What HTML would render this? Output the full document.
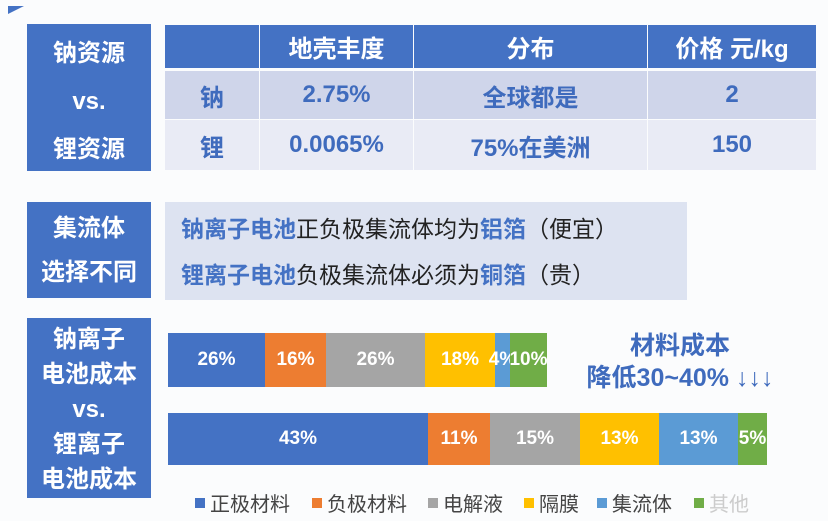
<!DOCTYPE html>
<html><head><meta charset="utf-8"><style>
*{margin:0;padding:0;box-sizing:border-box}
body{width:828px;height:521px;background:#fbfcfd;position:relative;overflow:hidden;font-family:"Liberation Sans","Noto Sans CJK SC",sans-serif;font-weight:bold}
.a{position:absolute}
.blk{background:#4472c4;color:#fff;font-size:24px;text-align:center}
.c{position:absolute;display:flex;align-items:center;justify-content:center;font-size:24px}
.h{background:#4472c4;color:#fff}
.r1{background:#cfd5ea;color:#3f6bbd}
.r2{background:#e9ebf5;color:#3f6bbd}
.seg{position:absolute;display:flex;align-items:center;justify-content:center;color:#fff;font-size:19px}
.lg{position:absolute;top:488px;font-size:20px;font-weight:normal;color:#444;display:flex;align-items:center}
.lg i{display:inline-block;width:10px;height:10px;margin-right:5px}
</style></head><body>
<div class="a" style="left:8px;top:6px;width:0;height:0;border-top:8px solid #4472c4;border-right:16px solid transparent"></div>
<div class="a blk" style="left:27px;top:24px;width:124px;height:147px;line-height:48px;padding-top:6px">钠资源<br>vs.<br>锂资源</div>
<div class="c h" style="left:165px;top:25px;width:94px;height:43px"></div>
<div class="c h" style="left:260px;top:25px;width:153px;height:43px">地壳丰度</div>
<div class="c h" style="left:414px;top:25px;width:233px;height:43px">分布</div>
<div class="c h" style="left:648px;top:25px;width:168px;height:43px">价格 元/kg</div>
<div class="c r1" style="left:165px;top:71px;width:94px;height:48px">钠</div>
<div class="c r1" style="left:260px;top:71px;width:153px;height:48px">2.75%</div>
<div class="c r1" style="left:414px;top:71px;width:233px;height:48px">全球都是</div>
<div class="c r1" style="left:648px;top:71px;width:168px;height:48px">2</div>
<div class="c r2" style="left:165px;top:120px;width:94px;height:50px">锂</div>
<div class="c r2" style="left:260px;top:120px;width:153px;height:50px">0.0065%</div>
<div class="c r2" style="left:414px;top:120px;width:233px;height:50px">75%在美洲</div>
<div class="c r2" style="left:648px;top:120px;width:168px;height:50px">150</div>

<div class="a blk" style="left:27px;top:202px;width:124px;height:96px;line-height:44px;padding-top:5px">集流体<br>选择不同</div>
<div class="a" style="left:165px;top:202px;width:522px;height:98px;background:#dde3f1;font-size:23px;font-weight:normal;color:#222;padding:4px 0 0 16px;line-height:46px">
<div><b style="color:#4472c4">钠离子电池</b>正负极集流体均为<b style="color:#4472c4">铝箔</b>（便宜）</div>
<div><b style="color:#4472c4">锂离子电池</b>负极集流体必须为<b style="color:#4472c4">铜箔</b>（贵）</div>
</div>

<div class="a blk" style="left:27px;top:318px;width:124px;height:180px;line-height:35px;padding-top:4px">钠离子<br>电池成本<br>vs.<br>锂离子<br>电池成本</div>

<div class="seg" style="left:168px;top:333px;width:97px;height:54px;background:#4472c4">26%</div>
<div class="seg" style="left:265px;top:333px;width:61px;height:54px;background:#ed7d31">16%</div>
<div class="seg" style="left:326px;top:333px;width:99px;height:54px;background:#a5a5a5">26%</div>
<div class="seg" style="left:425px;top:333px;width:70px;height:54px;background:#ffc000">18%</div>
<div class="seg" style="left:495px;top:333px;width:15px;height:54px;background:#5b9bd5;overflow:visible">4%</div>
<div class="seg" style="left:510px;top:333px;width:37px;height:54px;background:#70ad47">10%</div>

<div class="seg" style="left:168px;top:413px;width:260px;height:52px;background:#4472c4">43%</div>
<div class="seg" style="left:428px;top:413px;width:62px;height:52px;background:#ed7d31">11%</div>
<div class="seg" style="left:490px;top:413px;width:90px;height:52px;background:#a5a5a5">15%</div>
<div class="seg" style="left:580px;top:413px;width:79px;height:52px;background:#ffc000">13%</div>
<div class="seg" style="left:659px;top:413px;width:79px;height:52px;background:#5b9bd5">13%</div>
<div class="seg" style="left:738px;top:413px;width:29px;height:52px;background:#70ad47">5%</div>

<div class="a" style="left:560px;top:330px;width:240px;text-align:center;color:#3f6bbd;font-size:25px;line-height:32px">材料成本<br>降低30~40% <span style="font-weight:normal">↓↓↓</span></div>

<div class="lg" style="left:195px"><i style="background:#4472c4"></i>正极材料</div>
<div class="lg" style="left:312px"><i style="background:#ed7d31"></i>负极材料</div>
<div class="lg" style="left:428px"><i style="background:#a5a5a5"></i>电解液</div>
<div class="lg" style="left:524px"><i style="background:#ffc000"></i>隔膜</div>
<div class="lg" style="left:597px"><i style="background:#5b9bd5"></i>集流体</div>
<div class="lg" style="left:694px"><i style="background:#70ad47"></i><span style="color:#ccc">其他</span></div>
</body></html>
